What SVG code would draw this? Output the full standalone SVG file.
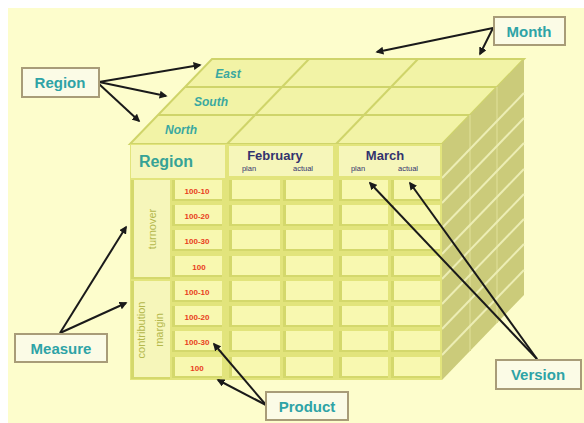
<svg xmlns="http://www.w3.org/2000/svg" width="584" height="423" viewBox="0 0 584 423">
<defs>
<style>
.lbl{fill:#2ea3a6;font-family:"Liberation Sans",Arial,sans-serif;font-weight:bold;font-size:15px;text-anchor:middle}
.box{fill:#fbfbe6;stroke:#a89c78;stroke-width:2}
.reg{fill:#3aa8a0;font-family:"Liberation Sans",Arial,sans-serif;font-weight:bold;font-style:italic;font-size:12px;text-anchor:middle}
.mon{fill:#33336e;font-family:"Liberation Sans",Arial,sans-serif;font-weight:bold;font-size:13px;text-anchor:middle}
.sub{fill:#33336e;font-family:"Liberation Sans",Arial,sans-serif;font-size:7.5px;text-anchor:middle}
.prd{fill:#e8401c;font-family:"Liberation Sans",Arial,sans-serif;font-weight:bold;font-size:8px;text-anchor:middle}
.msr{fill:#b4b84c;font-family:"Liberation Sans",Arial,sans-serif;font-size:11px;text-anchor:middle}
.sh{fill:#d4d86c}
.cl{fill:#f8f8b0}
.hd{fill:#f6f6ba}
.tl{stroke:#cfd46a;stroke-width:2;fill:none}
.st{stroke:#ecedb4;stroke-width:2;fill:none}
.arr{stroke:#1a1a1a;stroke-width:2;fill:none;marker-end:url(#ah)}
</style>
<marker id="ah" viewBox="0 0 10 10" refX="8" refY="5" markerWidth="4" markerHeight="4" orient="auto">
<path d="M0,0 L10,5 L0,10 z" fill="#1a1a1a"/>
</marker>
</defs>
<rect x="0" y="0" width="584" height="423" fill="#ffffff"/>
<rect x="8" y="8" width="576" height="415" fill="#fdfdcc"/>

<g id="cube">
<polygon points="130,144 212,59 524,59 442,144" fill="#f2f3a6"/>
<polygon points="130,144 212,59 524,59 442,144" class="tl"/>
<line x1="185" y1="87" x2="497" y2="87" class="tl"/>
<line x1="158" y1="115" x2="470" y2="115" class="tl"/>
<line x1="227" y1="144" x2="309" y2="59" class="tl"/>
<line x1="336" y1="144" x2="418" y2="59" class="tl"/>
<polygon points="442,144 524,59 524,295 442,380" fill="#cbcb7a"/>
<line x1="470" y1="115" x2="470" y2="351" stroke="#d6d68a" stroke-width="2"/>
<line x1="497" y1="87" x2="497" y2="323" stroke="#d6d68a" stroke-width="2"/>
<g class="st">
<line x1="442" y1="178" x2="524" y2="93"/>
<line x1="442" y1="203" x2="524" y2="118"/>
<line x1="442" y1="228" x2="524" y2="143"/>
<line x1="442" y1="254" x2="524" y2="169"/>
<line x1="442" y1="279" x2="524" y2="194"/>
<line x1="442" y1="304" x2="524" y2="219"/>
<line x1="442" y1="329" x2="524" y2="244"/>
<line x1="442" y1="355" x2="524" y2="270"/>
</g>
<rect x="130" y="144" width="312" height="236" fill="#e2e47c"/>
</g>

<g id="headers">
<rect x="131" y="145" width="94" height="33" class="hd"/>
<text x="166" y="167" class="lbl" style="font-size:16px;fill:#36a296">Region</text>
<rect x="229" y="146" width="104" height="30" class="hd"/>
<text x="275" y="160" class="mon">February</text>
<text x="249" y="171" class="sub">plan</text>
<text x="303" y="171" class="sub">actual</text>
<rect x="339" y="146" width="101" height="30" class="hd"/>
<text x="385" y="160" class="mon">March</text>
<text x="358" y="171" class="sub">plan</text>
<text x="408" y="171" class="sub">actual</text>
</g>

<g id="measures">
<rect x="131" y="180" width="39" height="99" class="sh"/>
<rect x="134" y="180" width="36" height="97" class="hd"/>
<text transform="translate(152,229) rotate(-90)" class="msr" dy="4">turnover</text>
<rect x="131" y="281" width="39" height="98" class="sh"/>
<rect x="134" y="281" width="36" height="96" class="hd"/>
<text transform="translate(141,330) rotate(-90)" class="msr" dy="4">contribution</text>
<text transform="translate(159,330) rotate(-90)" class="msr" dy="4">margin</text>
</g>

<g id="products">
<rect x="172" y="180" width="50" height="21" class="sh"/><rect x="175" y="180" width="47" height="19" class="cl"/><text x="197" y="194" class="prd">100-10</text>
<rect x="172" y="205" width="50" height="21" class="sh"/><rect x="175" y="205" width="47" height="19" class="cl"/><text x="197" y="219" class="prd">100-20</text>
<rect x="172" y="230" width="50" height="21" class="sh"/><rect x="175" y="230" width="47" height="19" class="cl"/><text x="197" y="244" class="prd">100-30</text>
<rect x="172" y="256" width="50" height="21" class="sh"/><rect x="175" y="256" width="47" height="19" class="cl"/><text x="199" y="270" class="prd">100</text>
<rect x="172" y="281" width="50" height="21" class="sh"/><rect x="175" y="281" width="47" height="19" class="cl"/><text x="197" y="295" class="prd">100-10</text>
<rect x="172" y="306" width="50" height="21" class="sh"/><rect x="175" y="306" width="47" height="19" class="cl"/><text x="197" y="320" class="prd">100-20</text>
<rect x="172" y="331" width="50" height="21" class="sh"/><rect x="175" y="331" width="47" height="19" class="cl"/><text x="197" y="345" class="prd">100-30</text>
<rect x="172" y="357" width="50" height="21" class="sh"/><rect x="175" y="357" width="47" height="19" class="cl"/><text x="197" y="371" class="prd">100</text>
</g>

<g id="cells">
<rect x="229" y="180" width="51" height="21" class="sh"/><rect x="232" y="180" width="48" height="19" class="cl"/>
<rect x="283" y="180" width="50" height="21" class="sh"/><rect x="286" y="180" width="47" height="19" class="cl"/>
<rect x="339" y="180" width="49" height="21" class="sh"/><rect x="342" y="180" width="46" height="19" class="cl"/>
<rect x="391" y="180" width="49" height="21" class="sh"/><rect x="394" y="180" width="46" height="19" class="cl"/>
<rect x="229" y="205" width="51" height="21" class="sh"/><rect x="232" y="205" width="48" height="19" class="cl"/>
<rect x="283" y="205" width="50" height="21" class="sh"/><rect x="286" y="205" width="47" height="19" class="cl"/>
<rect x="339" y="205" width="49" height="21" class="sh"/><rect x="342" y="205" width="46" height="19" class="cl"/>
<rect x="391" y="205" width="49" height="21" class="sh"/><rect x="394" y="205" width="46" height="19" class="cl"/>
<rect x="229" y="230" width="51" height="21" class="sh"/><rect x="232" y="230" width="48" height="19" class="cl"/>
<rect x="283" y="230" width="50" height="21" class="sh"/><rect x="286" y="230" width="47" height="19" class="cl"/>
<rect x="339" y="230" width="49" height="21" class="sh"/><rect x="342" y="230" width="46" height="19" class="cl"/>
<rect x="391" y="230" width="49" height="21" class="sh"/><rect x="394" y="230" width="46" height="19" class="cl"/>
<rect x="229" y="256" width="51" height="21" class="sh"/><rect x="232" y="256" width="48" height="19" class="cl"/>
<rect x="283" y="256" width="50" height="21" class="sh"/><rect x="286" y="256" width="47" height="19" class="cl"/>
<rect x="339" y="256" width="49" height="21" class="sh"/><rect x="342" y="256" width="46" height="19" class="cl"/>
<rect x="391" y="256" width="49" height="21" class="sh"/><rect x="394" y="256" width="46" height="19" class="cl"/>
<rect x="229" y="281" width="51" height="21" class="sh"/><rect x="232" y="281" width="48" height="19" class="cl"/>
<rect x="283" y="281" width="50" height="21" class="sh"/><rect x="286" y="281" width="47" height="19" class="cl"/>
<rect x="339" y="281" width="49" height="21" class="sh"/><rect x="342" y="281" width="46" height="19" class="cl"/>
<rect x="391" y="281" width="49" height="21" class="sh"/><rect x="394" y="281" width="46" height="19" class="cl"/>
<rect x="229" y="306" width="51" height="21" class="sh"/><rect x="232" y="306" width="48" height="19" class="cl"/>
<rect x="283" y="306" width="50" height="21" class="sh"/><rect x="286" y="306" width="47" height="19" class="cl"/>
<rect x="339" y="306" width="49" height="21" class="sh"/><rect x="342" y="306" width="46" height="19" class="cl"/>
<rect x="391" y="306" width="49" height="21" class="sh"/><rect x="394" y="306" width="46" height="19" class="cl"/>
<rect x="229" y="331" width="51" height="21" class="sh"/><rect x="232" y="331" width="48" height="19" class="cl"/>
<rect x="283" y="331" width="50" height="21" class="sh"/><rect x="286" y="331" width="47" height="19" class="cl"/>
<rect x="339" y="331" width="49" height="21" class="sh"/><rect x="342" y="331" width="46" height="19" class="cl"/>
<rect x="391" y="331" width="49" height="21" class="sh"/><rect x="394" y="331" width="46" height="19" class="cl"/>
<rect x="229" y="357" width="51" height="21" class="sh"/><rect x="232" y="357" width="48" height="19" class="cl"/>
<rect x="283" y="357" width="50" height="21" class="sh"/><rect x="286" y="357" width="47" height="19" class="cl"/>
<rect x="339" y="357" width="49" height="21" class="sh"/><rect x="342" y="357" width="46" height="19" class="cl"/>
<rect x="391" y="357" width="49" height="21" class="sh"/><rect x="394" y="357" width="46" height="19" class="cl"/>
</g>

<g id="regions">
<text x="228" y="78" class="reg">East</text>
<text x="211" y="106" class="reg">South</text>
<text x="181" y="134" class="reg">North</text>
</g>

<g id="connectors">
<line x1="99" y1="82" x2="200" y2="65" class="arr"/>
<line x1="99" y1="82" x2="166" y2="96" class="arr"/>
<line x1="99" y1="84" x2="139" y2="121" class="arr"/>
<line x1="493" y1="28" x2="377" y2="52" class="arr"/>
<line x1="493" y1="28" x2="480" y2="54" class="arr"/>
<line x1="60" y1="333" x2="126" y2="227" class="arr"/>
<line x1="60" y1="333" x2="126" y2="303" class="arr"/>
<line x1="266" y1="405" x2="214" y2="344" class="arr"/>
<line x1="266" y1="405" x2="218" y2="380" class="arr"/>
<line x1="537" y1="359" x2="370" y2="183" class="arr"/>
<line x1="537" y1="359" x2="410" y2="183" class="arr"/>
</g>

<g id="label-region"><rect x="22" y="68" width="77" height="29" class="box"/><text x="60" y="88" class="lbl">Region</text></g>
<g id="label-month"><rect x="494" y="17" width="71" height="28" class="box"/><text x="529" y="37" class="lbl">Month</text></g>
<g id="label-measure"><rect x="15" y="334" width="92" height="28" class="box"/><text x="61" y="354" class="lbl">Measure</text></g>
<g id="label-product"><rect x="266" y="392" width="82" height="28" class="box"/><text x="307" y="412" class="lbl">Product</text></g>
<g id="label-version"><rect x="496" y="360" width="85" height="29" class="box"/><text x="538" y="380" class="lbl">Version</text></g>
</svg>
